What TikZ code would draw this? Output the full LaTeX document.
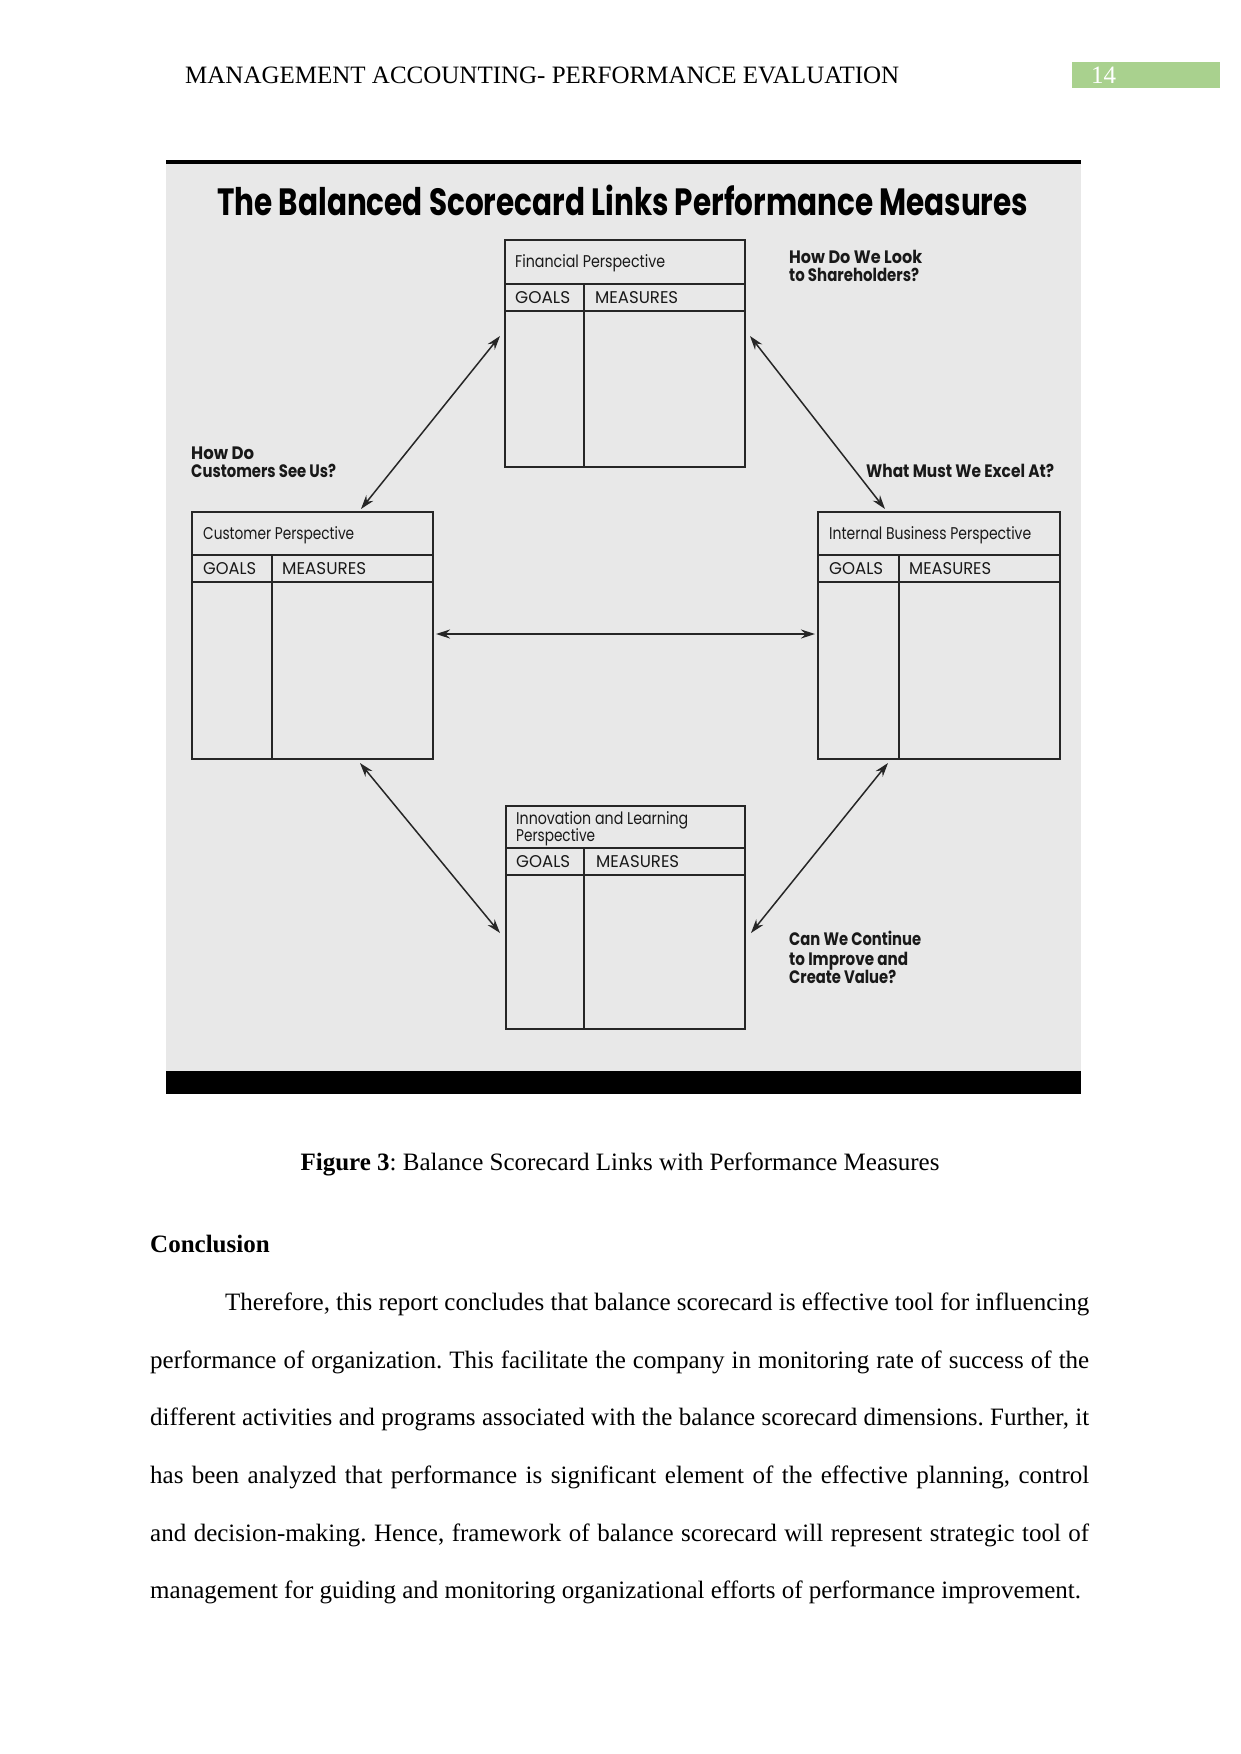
\documentclass[tikz,border=0pt]{standalone}
\usepackage{fontspec}
\usepackage{graphicx}
\setmainfont{Liberation Serif}
\newfontfamily\fut{Poppins}
\usetikzlibrary{arrows.meta,calc}
\definecolor{panelgray}{HTML}{E8E8E8}
\definecolor{pagegreen}{HTML}{A9D18E}
\newcommand\fitw[2]{\resizebox{#1}{\height}{#2}}
\frenchspacing
\tikzset{
  bsbox/.style={draw=black!85, line width=2pt, anchor=north west, inner sep=0pt},
  bsline/.style={draw=black!85, line width=2pt},
  boxtxt/.style={anchor=base west, inner sep=0pt, font=\fut\fontsize{17}{20}\selectfont, text=black!90},
  qtxt/.style={anchor=base west, inner sep=0pt, font=\fut\bfseries\fontsize{18}{20}\selectfont, text=black!90},
  link/.style={line width=1.5pt, black!85, {Stealth[length=14pt,width=9pt]}-{Stealth[length=14pt,width=9pt]}},
  bodytxt/.style={anchor=base west, inner sep=0pt, font=\fontsize{25}{30}\selectfont},
}
\begin{document}
\begin{tikzpicture}[x=1pt,y=-1pt]
\useasboundingbox (0,0) rectangle (1241,1754);
\fill[white] (0,0) rectangle (1241,1754);
% header
\node[bodytxt] (hdr) at (185,83) {MANAGEMENT ACCOUNTING- PERFORMANCE EVALUATION};
\fill[pagegreen] (1072,62) rectangle (1220,88);
\node[bodytxt, text=white] (pg) at (1091,83) {14};
% panel
\fill[panelgray] (166,160) rectangle (1081,1094);
\fill[black] (166,160) rectangle (1081,164);
\fill[black] (166,1071) rectangle (1081,1094);
\node[anchor=base west, inner sep=0pt, font=\fut\bfseries\fontsize{38}{40}\selectfont] (title) at (217,215) {\fitw{811pt}{The Balanced Scorecard Links Performance Measures}};
% Financial
\node[bsbox, minimum width=240pt, minimum height=227pt] (fin) at (504,239) {};
\draw[bsline] (504,284) -- (744,284) (504,311) -- (744,311) (584,284) -- (584,466);
\node[boxtxt] (fint) at (515,267) {\fitw{150pt}{Financial Perspective}};
\node[boxtxt] (fing) at (515,303) {\fitw{55pt}{GOALS}};
\node[boxtxt] (finm) at (595,303) {\fitw{83pt}{MEASURES}};
% Customer
\node[bsbox, minimum width=241pt, minimum height=247pt] (cust) at (191,511) {};
\draw[bsline] (191,555) -- (432,555) (191,582) -- (432,582) (272,555) -- (272,758);
\node[boxtxt] (custt) at (203,539) {\fitw{151pt}{Customer Perspective}};
\node[boxtxt] (custg) at (203,574) {\fitw{53pt}{GOALS}};
\node[boxtxt] (custm) at (282,574) {\fitw{84pt}{MEASURES}};
% Internal
\node[bsbox, minimum width=242pt, minimum height=247pt] (intl) at (817,511) {};
\draw[bsline] (817,555) -- (1059,555) (817,582) -- (1059,582) (899,555) -- (899,758);
\node[boxtxt] (intlt) at (829,539) {\fitw{202pt}{Internal Business Perspective}};
\node[boxtxt] (intlg) at (829,574) {\fitw{54pt}{GOALS}};
\node[boxtxt] (intlm) at (909,574) {\fitw{82pt}{MEASURES}};
% Innovation
\node[bsbox, minimum width=239pt, minimum height=223pt] (innov) at (505,805) {};
\draw[bsline] (505,848) -- (744,848) (505,875) -- (744,875) (584,848) -- (584,1028);
\node[boxtxt] (innovt) at (516,824) {\fitw{172pt}{Innovation and Learning}};
\node[boxtxt] (innovt2) at (516,841) {\fitw{79pt}{Perspective}};
\node[boxtxt] (innovg) at (516,867) {\fitw{54pt}{GOALS}};
\node[boxtxt] (innovm) at (596,867) {\fitw{83pt}{MEASURES}};
% questions
\node[qtxt] (q1a) at (789,263) {\fitw{133pt}{How Do We Look}};
\node[qtxt] (q1b) at (789,281) {\fitw{130pt}{to Shareholders?}};
\node[qtxt] (q2a) at (191,459) {\fitw{63pt}{How Do}};
\node[qtxt] (q2b) at (191,477) {\fitw{145pt}{Customers See Us?}};
\node[qtxt] (q3) at (866,477) {\fitw{188pt}{What Must We Excel At?}};
\node[qtxt] (q4a) at (789,945) {\fitw{132pt}{Can We Continue}};
\node[qtxt] (q4b) at (789,965) {\fitw{119pt}{to Improve and}};
\node[qtxt] (q4c) at (789,983) {\fitw{107pt}{Create Value?}};
% links
\draw[link] ($(fin.north west)+(-4,97)$) -- ($(cust.north west)+(170,-2)$);
\draw[link] ($(fin.north east)+(4,97)$) -- ($(intl.north west)+(68,-2)$);
\draw[link] ($(cust.north east)+(2,123)$) -- ($(intl.north west)+(-2,123)$);
\draw[link] ($(cust.south west)+(169,3)$) -- ($(innov.north west)+(-5,128)$);
\draw[link] ($(intl.south west)+(71,3)$) -- ($(innov.north east)+(5,128)$);
% caption
\node[anchor=base, inner sep=0pt, font=\fontsize{25}{30}\selectfont] (cap) at (620,1170) {\textbf{Figure 3}: Balance Scorecard Links with Performance Measures};
\node[bodytxt, font=\bfseries\fontsize{25}{30}\selectfont] (concl) at (150,1252) {Conclusion};
\node[bodytxt] (l1) at (225,1310) {\makebox[864pt][s]{Therefore, this report concludes that balance scorecard is effective tool for influencing}};
\node[bodytxt] (l2) at (150,1368) {\makebox[939pt][s]{performance of organization. This facilitate the company in monitoring rate of success of the}};
\node[bodytxt] (l3) at (150,1425) {\makebox[939pt][s]{different activities and programs associated with the balance scorecard dimensions. Further, it}};
\node[bodytxt] (l4) at (150,1483) {\makebox[939pt][s]{has been analyzed that performance is significant element of the effective planning, control}};
\node[bodytxt] (l5) at (150,1541) {\makebox[939pt][s]{and decision-making. Hence, framework of balance scorecard will represent strategic tool of}};
\node[bodytxt] (l6) at (150,1598) {management for guiding and monitoring organizational efforts of performance improvement.};
\end{tikzpicture}
\end{document}
